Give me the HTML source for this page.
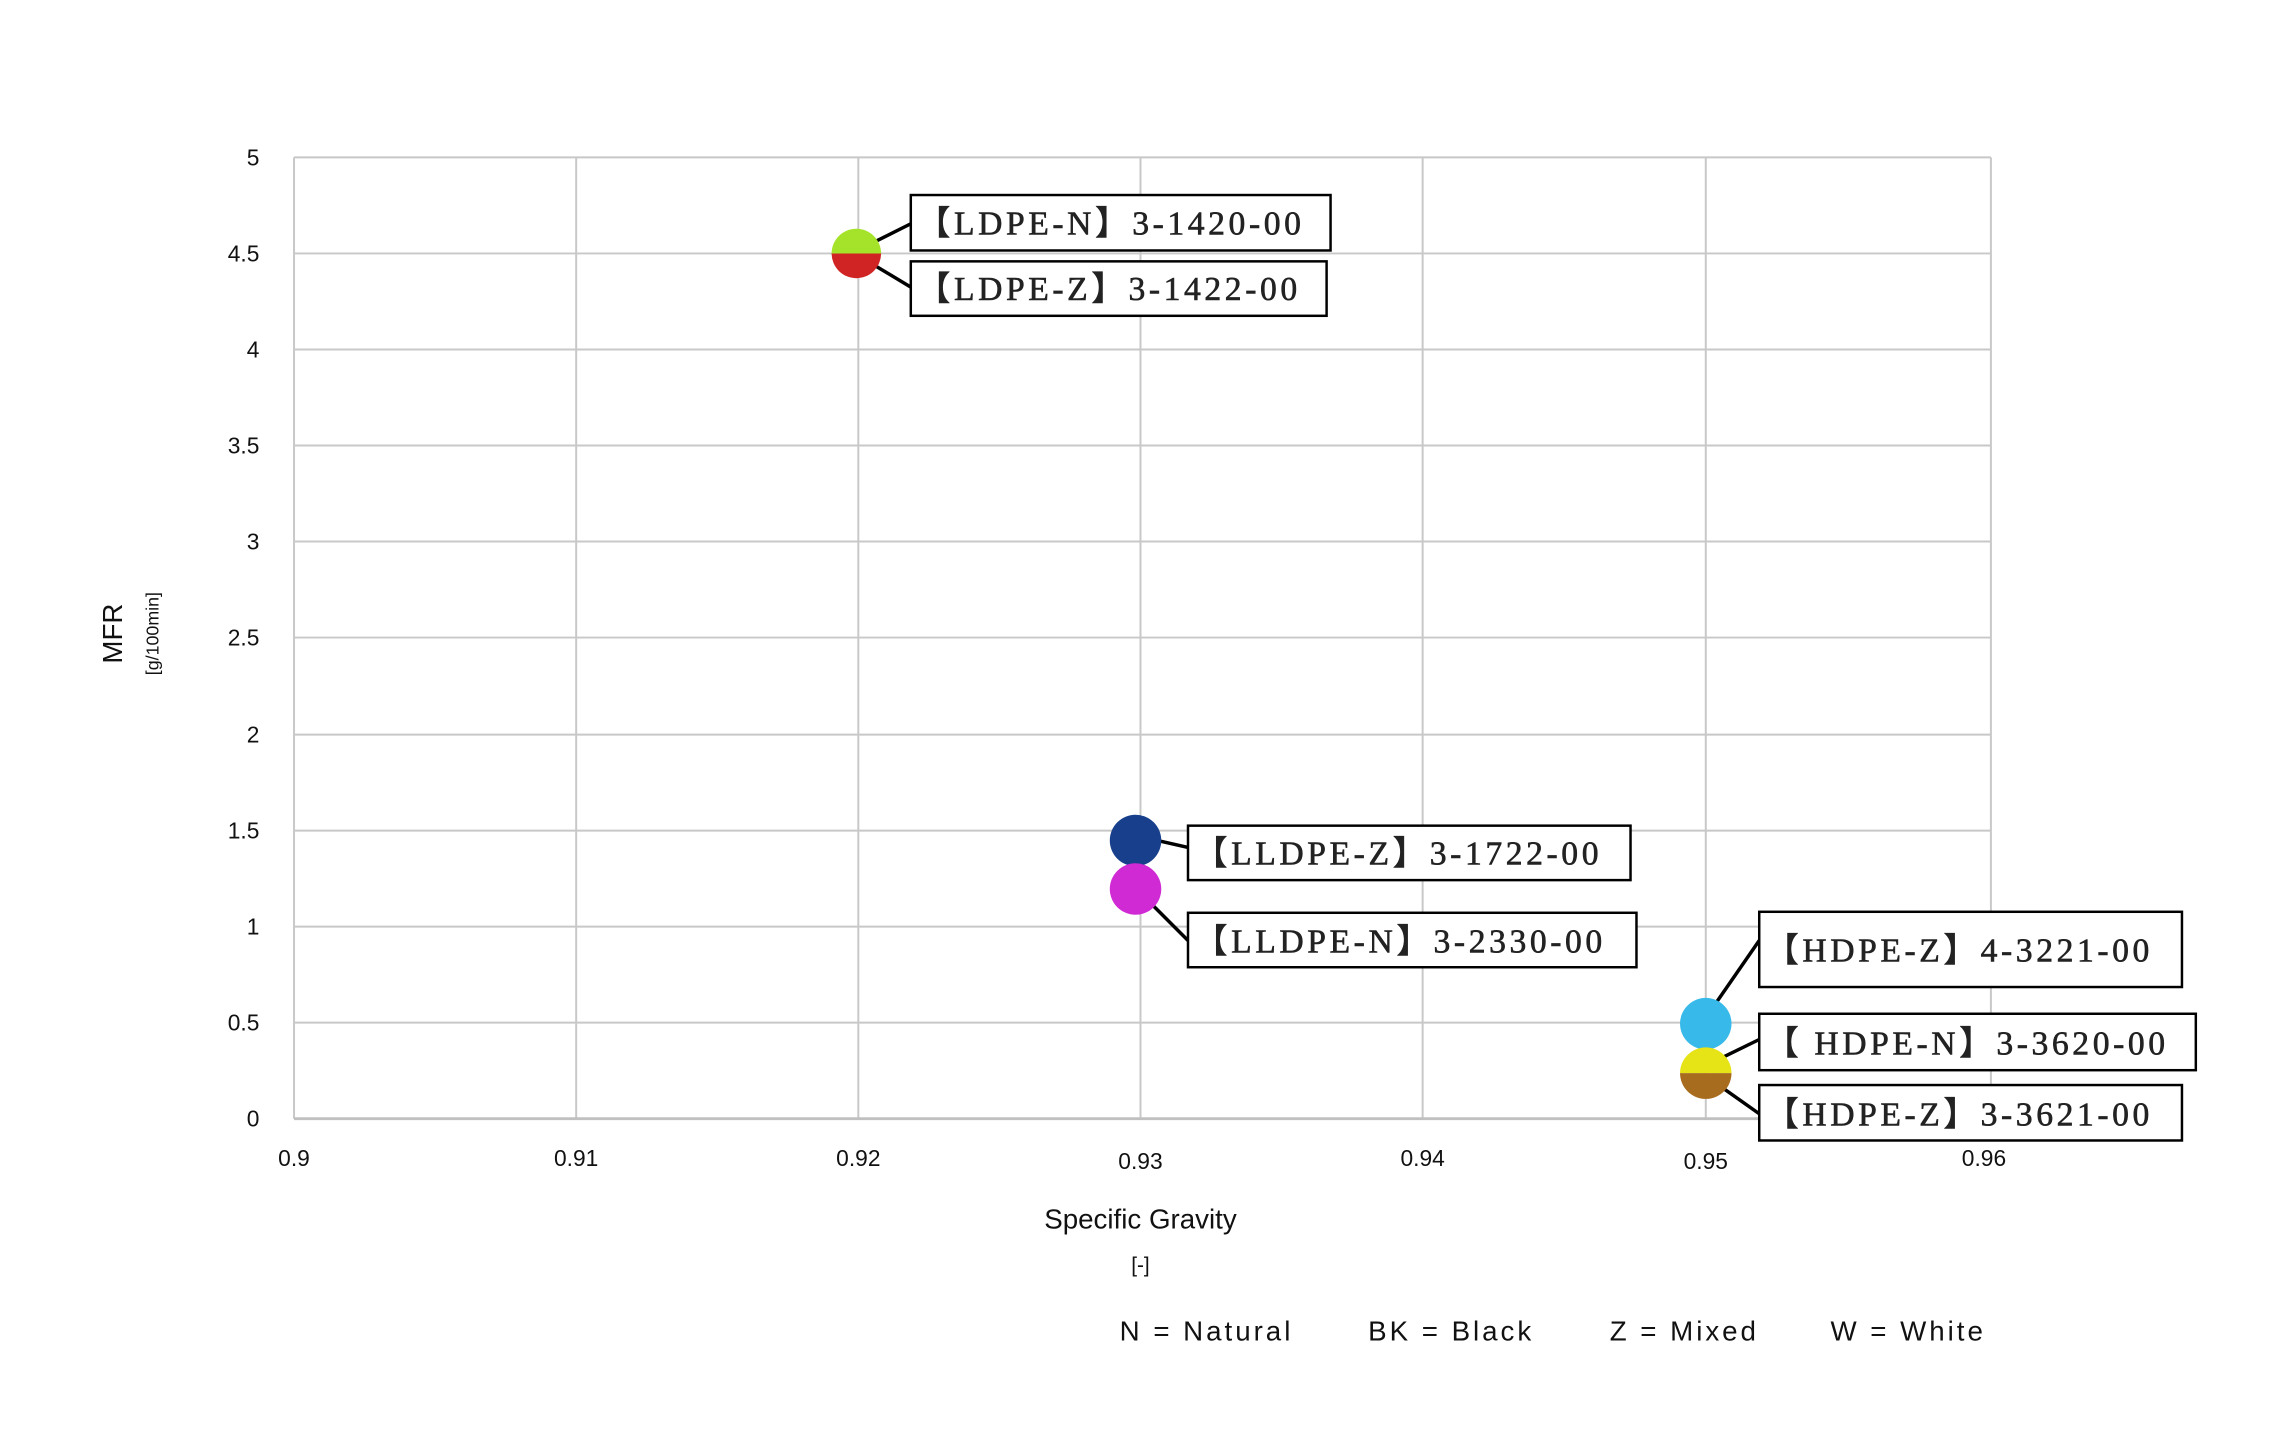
<!DOCTYPE html>
<html><head><meta charset="utf-8"><style>
html,body{margin:0;padding:0;background:#fff;}
svg text{font-family:"Liberation Sans",sans-serif;fill:#111;}
.s{font-family:"Liberation Serif",serif;font-size:34px;letter-spacing:3.6px;fill:#222;stroke:#222;stroke-width:0.6px;}
</style></head><body>
<svg width="2280" height="1444" viewBox="0 0 2280 1444" xmlns="http://www.w3.org/2000/svg">
<g transform="scale(0.99)">
<g stroke="#c8c8c8" stroke-width="2">
<line x1="297" y1="159" x2="2011" y2="159"/>
<line x1="297" y1="256" x2="2011" y2="256"/>
<line x1="297" y1="353" x2="2011" y2="353"/>
<line x1="297" y1="450" x2="2011" y2="450"/>
<line x1="297" y1="547" x2="2011" y2="547"/>
<line x1="297" y1="644" x2="2011" y2="644"/>
<line x1="297" y1="742" x2="2011" y2="742"/>
<line x1="297" y1="839" x2="2011" y2="839"/>
<line x1="297" y1="936" x2="2011" y2="936"/>
<line x1="297" y1="1033" x2="2011" y2="1033"/>
<line x1="297" y1="159" x2="297" y2="1130"/>
<line x1="582" y1="159" x2="582" y2="1130"/>
<line x1="867" y1="159" x2="867" y2="1130"/>
<line x1="1152" y1="159" x2="1152" y2="1130"/>
<line x1="1437" y1="159" x2="1437" y2="1130"/>
<line x1="1723" y1="159" x2="1723" y2="1130"/>
<line x1="2011" y1="159" x2="2011" y2="1130"/>
</g>
<line x1="297" y1="1130" x2="2011" y2="1130" stroke="#c0c0c0" stroke-width="3"/>
<g font-size="23" text-anchor="end">
<text x="262" y="167">5</text><text x="262" y="264">4.5</text><text x="262" y="361">4</text>
<text x="262" y="458">3.5</text><text x="262" y="555">3</text><text x="262" y="652">2.5</text>
<text x="262" y="750">2</text><text x="262" y="847">1.5</text><text x="262" y="944">1</text>
<text x="262" y="1041">0.5</text><text x="262" y="1138">0</text>
</g>
<g font-size="23" text-anchor="middle">
<text x="297" y="1178">0.9</text><text x="582" y="1178">0.91</text><text x="867" y="1178">0.92</text>
<text x="1152" y="1181">0.93</text><text x="1437" y="1178">0.94</text><text x="1723" y="1181">0.95</text>
<text x="2004" y="1178">0.96</text>
</g>
<text x="1152" y="1241" font-size="28" text-anchor="middle">Specific Gravity</text>
<text x="1152" y="1285" font-size="21" text-anchor="middle">[-]</text>
<text transform="translate(123,640) rotate(-90)" font-size="28" text-anchor="middle">MFR</text>
<text transform="translate(160,640) rotate(-90)" font-size="18" text-anchor="middle">[g/100min]</text>
<g font-size="28" letter-spacing="3">
<text x="1131" y="1354">N = Natural</text>
<text x="1382" y="1354">BK = Black</text>
<text x="1626" y="1354">Z = Mixed</text>
<text x="1849" y="1354">W = White</text>
</g>
<g stroke="#000" stroke-width="3.5">
<line x1="880" y1="246" x2="920" y2="226"/>
<line x1="880" y1="266" x2="920" y2="290"/>
<line x1="1165" y1="848" x2="1200" y2="856"/>
<line x1="1160" y1="910" x2="1200" y2="950"/>
<line x1="1732" y1="1015" x2="1777" y2="950"/>
<line x1="1736" y1="1070" x2="1777" y2="1050"/>
<line x1="1736" y1="1096" x2="1777" y2="1125"/>
</g>
<path d="M840,256 A25,25 0 0 1 890,256 Z" fill="#a5e32a"/>
<path d="M840,256 A25,25 0 0 0 890,256 Z" fill="#d02424"/>
<circle cx="1147" cy="849" r="26" fill="#183f8c"/>
<circle cx="1147" cy="898" r="26" fill="#d02ad4"/>
<circle cx="1723" cy="1034" r="26" fill="#37b9ea"/>
<path d="M1697,1084 A26,26 0 0 1 1749,1084 Z" fill="#e6e316"/>
<path d="M1697,1084 A26,26 0 0 0 1749,1084 Z" fill="#a86c1e"/>
<g fill="#fff" stroke="#000" stroke-width="2.5">
<rect x="920" y="197" width="424" height="56"/>
<rect x="920" y="264" width="420" height="55"/>
<rect x="1200" y="834" width="447" height="55"/>
<rect x="1200" y="922" width="453" height="55"/>
<rect x="1777" y="921" width="427" height="76"/>
<rect x="1777" y="1024" width="441" height="57"/>
<rect x="1777" y="1096" width="427" height="56"/>
</g>
<text class="s" x="926" y="237">【LDPE-N】3-1420-00</text>
<text class="s" x="926" y="303">【LDPE-Z】3-1422-00</text>
<text class="s" x="1206" y="873">【LLDPE-Z】3-1722-00</text>
<text class="s" x="1206" y="962">【LLDPE-N】3-2330-00</text>
<text class="s" x="1783" y="971">【HDPE-Z】4-3221-00</text>
<text class="s" x="1783" y="1065">【 HDPE-N】3-3620-00</text>
<text class="s" x="1783" y="1137">【HDPE-Z】3-3621-00</text>
</g>
</svg>
</body></html>
